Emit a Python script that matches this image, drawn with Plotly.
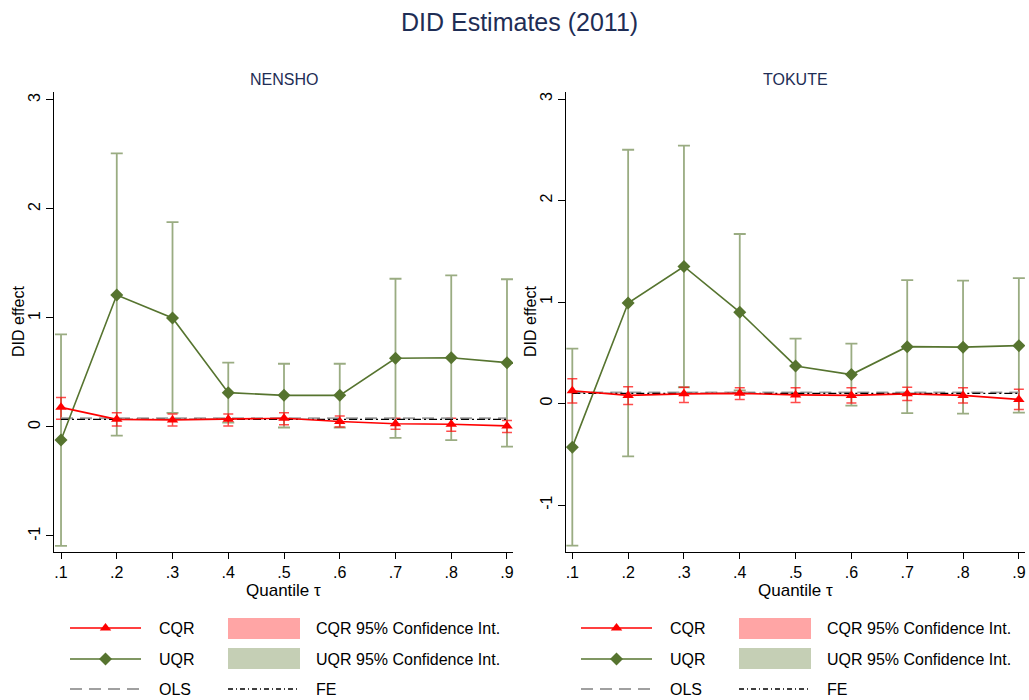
import plotly.graph_objects as go

# ---------------- data ----------------
quantiles = [0.1, 0.2, 0.3, 0.4, 0.5, 0.6, 0.7, 0.8, 0.9]
quantile_labels = [".1", ".2", ".3", ".4", ".5", ".6", ".7", ".8", ".9"]
panel_titles = ["NENSHO", "TOKUTE"]

# NENSHO
uqr_n = [-0.12, 1.21, 1.00, 0.315, 0.29, 0.29, 0.63, 0.635, 0.59]
uqr_n_lo = [-1.09, -0.08, 0.13, 0.04, -0.005, -0.005, -0.10, -0.12, -0.18]
uqr_n_hi = [0.85, 2.51, 1.88, 0.59, 0.58, 0.58, 1.36, 1.39, 1.355]
cqr_n = [0.18, 0.07, 0.065, 0.07, 0.08, 0.05, 0.03, 0.025, 0.01]
cqr_n_lo = [0.07, 0.01, 0.01, 0.01, 0.02, 0.0, -0.02, -0.04, -0.05]
cqr_n_hi = [0.27, 0.13, 0.12, 0.12, 0.13, 0.10, 0.08, 0.08, 0.06]
ols_n = 0.08
fe_n = 0.07

# TOKUTE
uqr_t = [-0.43, 0.99, 1.35, 0.90, 0.37, 0.285, 0.56, 0.555, 0.57]
uqr_t_lo = [-1.40, -0.52, 0.16, 0.13, 0.10, -0.02, -0.095, -0.10, -0.09]
uqr_t_hi = [0.54, 2.50, 2.54, 1.67, 0.64, 0.59, 1.215, 1.21, 1.235]
cqr_t = [0.125, 0.08, 0.095, 0.10, 0.085, 0.08, 0.095, 0.08, 0.04]
cqr_t_lo = [0.005, -0.01, 0.01, 0.04, 0.01, 0.005, 0.03, 0.005, -0.06]
cqr_t_hi = [0.245, 0.165, 0.16, 0.155, 0.155, 0.155, 0.16, 0.155, 0.14]
ols_t = 0.11
fe_t = 0.10

y_ticks = [-1, 0, 1, 2, 3]

# ---------------- style ----------------
W, H = 1029, 700
FONT = "Liberation Sans, Arial, Helvetica, sans-serif"
NAVY = "#1e2d55"
RED = "#ff0000"
GREEN = "#56742f"
RED_CI = "rgba(255,0,0,0.7)"
GREEN_CI = "rgba(86,116,47,0.6)"

def px_x(p):
    return p / W

def px_y(p):
    return 1 - p / H

panels = [
    dict(data=(uqr_n, uqr_n_lo, uqr_n_hi, cqr_n, cqr_n_lo, cqr_n_hi, ols_n, fe_n),
         x0=54, x1=513, yrange=[-1.147, 3.073], xrange=[0.0874, 0.9108]),
    dict(data=(uqr_t, uqr_t_lo, uqr_t_hi, cqr_t, cqr_t_lo, cqr_t_hi, ols_t, fe_t),
         x0=566, x1=1025, yrange=[-1.463, 3.069], xrange=[0.0887, 0.911]),
]
PLOT_TOP, PLOT_BOT = 92, 552

fig = go.Figure()
annotations = []
shapes = []

for i, p in enumerate(panels):
    xa = "x" if i == 0 else "x2"
    ya = "y" if i == 0 else "y2"
    u, ulo, uhi, c, clo, chi, ols, fe = p["data"]
    # UQR CI
    fig.add_trace(go.Scatter(
        x=quantiles, y=u, mode="markers", xaxis=xa, yaxis=ya, showlegend=False,
        marker=dict(size=1, color="rgba(0,0,0,0)"),
        error_y=dict(type="data", symmetric=False,
                     array=[h - v for h, v in zip(uhi, u)],
                     arrayminus=[v - l for v, l in zip(u, ulo)],
                     color=GREEN_CI, thickness=1.8, width=6),
        hoverinfo="skip"))
    # CQR CI
    fig.add_trace(go.Scatter(
        x=quantiles, y=c, mode="markers", xaxis=xa, yaxis=ya, showlegend=False,
        marker=dict(size=1, color="rgba(0,0,0,0)"),
        error_y=dict(type="data", symmetric=False,
                     array=[h - v for h, v in zip(chi, c)],
                     arrayminus=[v - l for v, l in zip(c, clo)],
                     color=RED_CI, thickness=1.5, width=5),
        hoverinfo="skip"))
    # OLS
    fig.add_trace(go.Scatter(
        x=[quantiles[0], quantiles[-1]], y=[ols, ols], mode="lines", xaxis=xa, yaxis=ya,
        showlegend=False, line=dict(color="#a0a0a0", width=1.8, dash="12px,7px")))
    # FE
    fig.add_trace(go.Scatter(
        x=[quantiles[0], quantiles[-1]], y=[fe, fe], mode="lines", xaxis=xa, yaxis=ya,
        showlegend=False, line=dict(color="#000000", width=1.3, dash="8px,3px,2px,3px")))
    # UQR
    fig.add_trace(go.Scatter(
        x=quantiles, y=u, mode="lines+markers", xaxis=xa, yaxis=ya, showlegend=False,
        line=dict(color=GREEN, width=1.6),
        marker=dict(symbol="diamond", size=10, color=GREEN)))
    # CQR
    fig.add_trace(go.Scatter(
        x=quantiles, y=c, mode="lines+markers", xaxis=xa, yaxis=ya, showlegend=False,
        line=dict(color=RED, width=1.6),
        marker=dict(symbol="triangle-up", size=10, color=RED)))

    dom_x = [px_x(p["x0"]), px_x(p["x1"])]
    dom_y = [px_y(PLOT_BOT), px_y(PLOT_TOP)]
    axis_common = dict(showline=True, linecolor="black", linewidth=1, showgrid=False,
                       zeroline=False, ticks="outside", tickcolor="black",
                       tickfont=dict(family=FONT, size=16, color="black"))
    fig.update_layout(**{
        ("xaxis" if i == 0 else "xaxis2"): dict(
            domain=dom_x, range=p["xrange"], tickvals=quantiles, ticktext=quantile_labels,
            ticklen=6, anchor=ya, **axis_common),
        ("yaxis" if i == 0 else "yaxis2"): dict(
            domain=dom_y, range=p["yrange"], tickvals=y_ticks,
            ticktext=[str(t) for t in y_ticks], ticklen=7, tickangle=-90,
            anchor=xa, **axis_common),
    })
    cx = (p["x0"] + p["x1"]) / 2
    annotations.append(dict(text=panel_titles[i], x=px_x(cx), y=px_y(79), xref="paper", yref="paper",
                            showarrow=False, font=dict(family=FONT, size=16, color=NAVY),
                            xanchor="center", yanchor="middle"))
    annotations.append(dict(text="Quantile τ", x=px_x(cx), y=px_y(590), xref="paper", yref="paper",
                            showarrow=False, font=dict(family=FONT, size=17, color="black"),
                            xanchor="center", yanchor="middle"))
    annotations.append(dict(text="DID effect", x=px_x(p["x0"] - 36), y=px_y((PLOT_TOP + PLOT_BOT) / 2),
                            xref="paper", yref="paper", showarrow=False, textangle=-90,
                            font=dict(family=FONT, size=16, color="black"),
                            xanchor="center", yanchor="middle"))

    # ---- legend block (drawn on overlay pixel axes) ----
    off = 0 if i == 0 else 511
    fig.add_trace(go.Scatter(x=[70 + off, 141 + off], y=[628, 628], mode="lines", xaxis="x3", yaxis="y3",
                             showlegend=False, line=dict(color=RED, width=1.6), hoverinfo="skip"))
    fig.add_trace(go.Scatter(x=[105.5 + off], y=[628], mode="markers", xaxis="x3", yaxis="y3",
                             showlegend=False, marker=dict(symbol="triangle-up", size=10, color=RED),
                             hoverinfo="skip"))
    fig.add_trace(go.Scatter(x=[70 + off, 141 + off], y=[659, 659], mode="lines", xaxis="x3", yaxis="y3",
                             showlegend=False, line=dict(color=GREEN, width=1.6), hoverinfo="skip"))
    fig.add_trace(go.Scatter(x=[105.5 + off], y=[659], mode="markers", xaxis="x3", yaxis="y3",
                             showlegend=False, marker=dict(symbol="diamond", size=10, color=GREEN),
                             hoverinfo="skip"))
    fig.add_trace(go.Scatter(x=[70 + off, 141 + off], y=[689, 689], mode="lines", xaxis="x3", yaxis="y3",
                             showlegend=False, line=dict(color="#a0a0a0", width=1.8, dash="12px,7px"),
                             hoverinfo="skip"))
    fig.add_trace(go.Scatter(x=[228 + off, 300 + off], y=[689, 689], mode="lines", xaxis="x3", yaxis="y3",
                             showlegend=False, line=dict(color="#000000", width=1.3, dash="5px,3px,1px,3px"),
                             hoverinfo="skip"))
    shapes.append(dict(type="rect", xref="x3", yref="y3", x0=228 + off, x1=300 + off, y0=618, y1=639,
                       fillcolor="#ffa5a5", line=dict(width=0), layer="below"))
    shapes.append(dict(type="rect", xref="x3", yref="y3", x0=228 + off, x1=300 + off, y0=648, y1=669,
                       fillcolor="#c5cfb5", line=dict(width=0), layer="below"))
    for txt, tx, ty in [("CQR", 157, 628), ("UQR", 157, 659), ("OLS", 157, 689),
                        ("CQR 95% Confidence Int.", 314, 628), ("UQR 95% Confidence Int.", 314, 659),
                        ("FE", 314, 689)]:
        annotations.append(dict(text=txt, x=tx + off, y=ty, xref="x3", yref="y3", showarrow=False,
                                xanchor="left", yanchor="middle",
                                font=dict(family=FONT, size=16, color="black")))

annotations.append(dict(text="DID Estimates (2011)", x=px_x(519), y=px_y(22), xref="paper", yref="paper",
                        showarrow=False, font=dict(family=FONT, size=25, color=NAVY),
                        xanchor="center", yanchor="middle"))

fig.update_layout(
    width=W, height=H, margin=dict(l=0, r=0, t=0, b=0),
    paper_bgcolor="white", plot_bgcolor="rgba(0,0,0,0)",
    xaxis3=dict(domain=[0, 1], range=[0, W], visible=False, anchor="y3", fixedrange=True),
    yaxis3=dict(domain=[0, 1], range=[H, 0], visible=False, anchor="x3", fixedrange=True),
    annotations=annotations, shapes=shapes, showlegend=False,
)

fig.write_html("out.html", config={"displayModeBar": False},
               post_script="document.body.style.margin='0px';document.body.style.overflow='hidden';")
